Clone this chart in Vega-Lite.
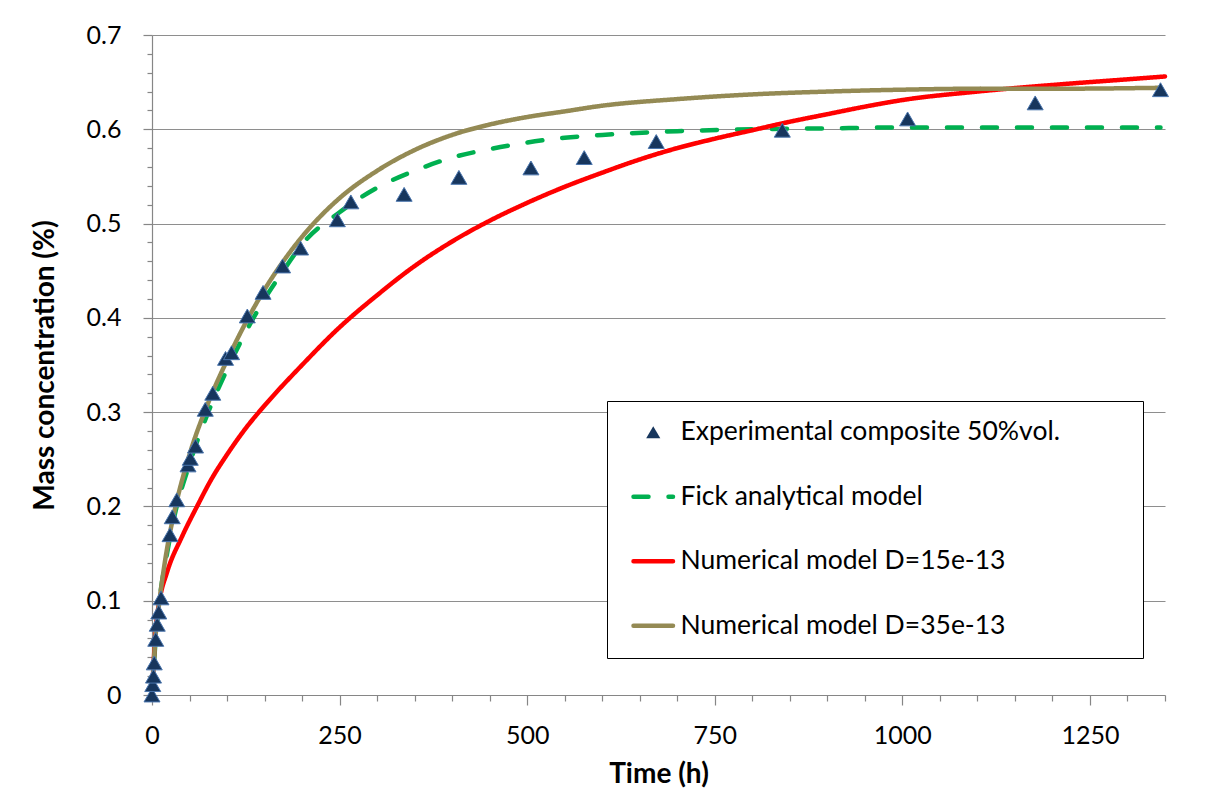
{
  "$schema": "https://vega.github.io/schema/vega-lite/v6.json",
  "width": 1013,
  "height": 660,
  "autosize": {"type": "none"},
  "padding": {"left": 152, "top": 35, "right": 47, "bottom": 97},
  "background": "white",
  "config": {"view": {"stroke": null}, "font": "Lato"},
  "datasets": {
    "exp": [
      {"series": "Experimental composite 50%vol.", "t": 0, "c": 0},
      {"series": "Experimental composite 50%vol.", "t": 1, "c": 0.011},
      {"series": "Experimental composite 50%vol.", "t": 2, "c": 0.02},
      {"series": "Experimental composite 50%vol.", "t": 3, "c": 0.034},
      {"series": "Experimental composite 50%vol.", "t": 5, "c": 0.059},
      {"series": "Experimental composite 50%vol.", "t": 7, "c": 0.075},
      {"series": "Experimental composite 50%vol.", "t": 9, "c": 0.088},
      {"series": "Experimental composite 50%vol.", "t": 12, "c": 0.103},
      {"series": "Experimental composite 50%vol.", "t": 24, "c": 0.17},
      {"series": "Experimental composite 50%vol.", "t": 27, "c": 0.189},
      {"series": "Experimental composite 50%vol.", "t": 33, "c": 0.207},
      {"series": "Experimental composite 50%vol.", "t": 48, "c": 0.244},
      {"series": "Experimental composite 50%vol.", "t": 51, "c": 0.251},
      {"series": "Experimental composite 50%vol.", "t": 58, "c": 0.264},
      {"series": "Experimental composite 50%vol.", "t": 71, "c": 0.303},
      {"series": "Experimental composite 50%vol.", "t": 81, "c": 0.32},
      {"series": "Experimental composite 50%vol.", "t": 98, "c": 0.357},
      {"series": "Experimental composite 50%vol.", "t": 106, "c": 0.363},
      {"series": "Experimental composite 50%vol.", "t": 127, "c": 0.402},
      {"series": "Experimental composite 50%vol.", "t": 148, "c": 0.427},
      {"series": "Experimental composite 50%vol.", "t": 174, "c": 0.455},
      {"series": "Experimental composite 50%vol.", "t": 198, "c": 0.474},
      {"series": "Experimental composite 50%vol.", "t": 247, "c": 0.504},
      {"series": "Experimental composite 50%vol.", "t": 265, "c": 0.523},
      {"series": "Experimental composite 50%vol.", "t": 336, "c": 0.531},
      {"series": "Experimental composite 50%vol.", "t": 409, "c": 0.549},
      {"series": "Experimental composite 50%vol.", "t": 505, "c": 0.559},
      {"series": "Experimental composite 50%vol.", "t": 576, "c": 0.57},
      {"series": "Experimental composite 50%vol.", "t": 672, "c": 0.587},
      {"series": "Experimental composite 50%vol.", "t": 840, "c": 0.599},
      {"series": "Experimental composite 50%vol.", "t": 1007, "c": 0.611},
      {"series": "Experimental composite 50%vol.", "t": 1177, "c": 0.628},
      {"series": "Experimental composite 50%vol.", "t": 1344, "c": 0.642}
    ],
    "curves": [
      {"series": "Fick analytical model", "t": 0, "c": 0},
      {"series": "Fick analytical model", "t": 5, "c": 0.06},
      {"series": "Fick analytical model", "t": 10, "c": 0.1},
      {"series": "Fick analytical model", "t": 20, "c": 0.15},
      {"series": "Fick analytical model", "t": 30, "c": 0.19},
      {"series": "Fick analytical model", "t": 50, "c": 0.245},
      {"series": "Fick analytical model", "t": 75, "c": 0.3},
      {"series": "Fick analytical model", "t": 100, "c": 0.345},
      {"series": "Fick analytical model", "t": 125, "c": 0.385},
      {"series": "Fick analytical model", "t": 150, "c": 0.42},
      {"series": "Fick analytical model", "t": 175, "c": 0.45},
      {"series": "Fick analytical model", "t": 200, "c": 0.478},
      {"series": "Fick analytical model", "t": 250, "c": 0.512},
      {"series": "Fick analytical model", "t": 300, "c": 0.538},
      {"series": "Fick analytical model", "t": 350, "c": 0.556},
      {"series": "Fick analytical model", "t": 400, "c": 0.57},
      {"series": "Fick analytical model", "t": 450, "c": 0.579},
      {"series": "Fick analytical model", "t": 500, "c": 0.586},
      {"series": "Fick analytical model", "t": 550, "c": 0.591},
      {"series": "Fick analytical model", "t": 600, "c": 0.594},
      {"series": "Fick analytical model", "t": 700, "c": 0.598},
      {"series": "Fick analytical model", "t": 800, "c": 0.6},
      {"series": "Fick analytical model", "t": 900, "c": 0.601},
      {"series": "Fick analytical model", "t": 1000, "c": 0.602},
      {"series": "Fick analytical model", "t": 1100, "c": 0.602},
      {"series": "Fick analytical model", "t": 1200, "c": 0.602},
      {"series": "Fick analytical model", "t": 1344, "c": 0.602},
      {"series": "Numerical model D=15e-13", "t": 0, "c": 0},
      {"series": "Numerical model D=15e-13", "t": 5, "c": 0.07},
      {"series": "Numerical model D=15e-13", "t": 10, "c": 0.1},
      {"series": "Numerical model D=15e-13", "t": 20, "c": 0.13},
      {"series": "Numerical model D=15e-13", "t": 40, "c": 0.168},
      {"series": "Numerical model D=15e-13", "t": 60, "c": 0.2},
      {"series": "Numerical model D=15e-13", "t": 80, "c": 0.23},
      {"series": "Numerical model D=15e-13", "t": 100, "c": 0.255},
      {"series": "Numerical model D=15e-13", "t": 125, "c": 0.283},
      {"series": "Numerical model D=15e-13", "t": 150, "c": 0.307},
      {"series": "Numerical model D=15e-13", "t": 200, "c": 0.35},
      {"series": "Numerical model D=15e-13", "t": 250, "c": 0.39},
      {"series": "Numerical model D=15e-13", "t": 300, "c": 0.424},
      {"series": "Numerical model D=15e-13", "t": 350, "c": 0.455},
      {"series": "Numerical model D=15e-13", "t": 400, "c": 0.481},
      {"series": "Numerical model D=15e-13", "t": 450, "c": 0.503},
      {"series": "Numerical model D=15e-13", "t": 500, "c": 0.522},
      {"series": "Numerical model D=15e-13", "t": 550, "c": 0.539},
      {"series": "Numerical model D=15e-13", "t": 600, "c": 0.554},
      {"series": "Numerical model D=15e-13", "t": 650, "c": 0.568},
      {"series": "Numerical model D=15e-13", "t": 700, "c": 0.58},
      {"series": "Numerical model D=15e-13", "t": 750, "c": 0.59},
      {"series": "Numerical model D=15e-13", "t": 800, "c": 0.599},
      {"series": "Numerical model D=15e-13", "t": 850, "c": 0.608},
      {"series": "Numerical model D=15e-13", "t": 900, "c": 0.616},
      {"series": "Numerical model D=15e-13", "t": 950, "c": 0.624},
      {"series": "Numerical model D=15e-13", "t": 1000, "c": 0.631},
      {"series": "Numerical model D=15e-13", "t": 1100, "c": 0.64},
      {"series": "Numerical model D=15e-13", "t": 1200, "c": 0.647},
      {"series": "Numerical model D=15e-13", "t": 1300, "c": 0.653},
      {"series": "Numerical model D=15e-13", "t": 1350, "c": 0.656},
      {"series": "Numerical model D=35e-13", "t": 0, "c": 0},
      {"series": "Numerical model D=35e-13", "t": 5, "c": 0.065},
      {"series": "Numerical model D=35e-13", "t": 10, "c": 0.1},
      {"series": "Numerical model D=35e-13", "t": 20, "c": 0.155},
      {"series": "Numerical model D=35e-13", "t": 30, "c": 0.195},
      {"series": "Numerical model D=35e-13", "t": 50, "c": 0.255},
      {"series": "Numerical model D=35e-13", "t": 75, "c": 0.31},
      {"series": "Numerical model D=35e-13", "t": 100, "c": 0.355},
      {"series": "Numerical model D=35e-13", "t": 125, "c": 0.395},
      {"series": "Numerical model D=35e-13", "t": 150, "c": 0.43},
      {"series": "Numerical model D=35e-13", "t": 175, "c": 0.46},
      {"series": "Numerical model D=35e-13", "t": 200, "c": 0.486},
      {"series": "Numerical model D=35e-13", "t": 250, "c": 0.527},
      {"series": "Numerical model D=35e-13", "t": 300, "c": 0.556},
      {"series": "Numerical model D=35e-13", "t": 350, "c": 0.578},
      {"series": "Numerical model D=35e-13", "t": 400, "c": 0.594},
      {"series": "Numerical model D=35e-13", "t": 450, "c": 0.605},
      {"series": "Numerical model D=35e-13", "t": 500, "c": 0.613},
      {"series": "Numerical model D=35e-13", "t": 550, "c": 0.619},
      {"series": "Numerical model D=35e-13", "t": 600, "c": 0.625},
      {"series": "Numerical model D=35e-13", "t": 700, "c": 0.632},
      {"series": "Numerical model D=35e-13", "t": 800, "c": 0.637},
      {"series": "Numerical model D=35e-13", "t": 900, "c": 0.64},
      {"series": "Numerical model D=35e-13", "t": 1000, "c": 0.642},
      {"series": "Numerical model D=35e-13", "t": 1100, "c": 0.643},
      {"series": "Numerical model D=35e-13", "t": 1200, "c": 0.643},
      {"series": "Numerical model D=35e-13", "t": 1344, "c": 0.644}
    ]
  },
  "encoding": {
    "x": {
      "field": "t", "type": "quantitative",
      "scale": {"domain": [0, 1350], "nice": false, "zero": true},
      "axis": {
        "title": "Time (h)",
        "values": [0,50,100,150,200,250,300,350,400,450,500,550,600,650,700,750,800,850,900,950,1000,1050,1100,1150,1200,1250,1300,1350],
        "labelExpr": "datum.value % 250 === 0 ? '' + datum.value : ''",
        "labelFont": "Lato", "labelFontSize": 25, "labelColor": "#000",
        "labelPadding": 18, "labelFlush": false, "labelOverlap": false,
        "titleFont": "Lato", "titleFontSize": 28, "titleFontWeight": "bold", "titleColor": "#000",
        "titlePadding": 12,
        "domainColor": "#868686", "domainWidth": 1.2,
        "tickColor": "#868686", "tickWidth": 1.2,
        "tickSize": {"condition": {"test": "datum.value % 250 === 0", "value": 10}, "value": 6},
        "grid": false
      }
    },
    "y": {
      "field": "c", "type": "quantitative",
      "scale": {"domain": [0, 0.7], "nice": false},
      "axis": {
        "title": "Mass concentration (%)",
        "values": [0,0.02,0.04,0.06,0.08,0.1,0.12,0.14,0.16,0.18,0.2,0.22,0.24,0.26,0.28,0.3,0.32,0.34,0.36,0.38,0.4,0.42,0.44,0.46,0.48,0.5,0.52,0.54,0.56,0.58,0.6,0.62,0.64,0.66,0.68,0.7],
        "labelExpr": "round(datum.value * 100) % 10 === 0 ? '' + round(datum.value * 10) / 10 : ''",
        "labelFont": "Lato", "labelFontSize": 25, "labelColor": "#000",
        "labelPadding": 22, "labelOverlap": false, "labelFlush": false,
        "titleFont": "Lato", "titleFontSize": 28, "titleFontWeight": "bold", "titleColor": "#000",
        "titlePadding": 27,
        "domainColor": "#868686", "domainWidth": 1.2,
        "tickColor": "#868686", "tickWidth": 1.2,
        "tickSize": {"condition": {"test": "round(datum.value * 100) % 10 === 0", "value": 9}, "value": 5},
        "grid": true, "gridColor": "#8e8e8e", "gridWidth": 1.2,
        "gridOpacity": {"condition": {"test": "round(datum.value * 100) % 10 === 0 && datum.value > 0", "value": 1}, "value": 0}
      }
    }
  },
  "layer": [
    {
      "data": {"name": "curves"},
      "mark": {"type": "line", "strokeWidth": 4.5, "interpolate": "monotone", "strokeCap": "round"},
      "encoding": {
        "color": {
          "field": "series", "type": "nominal",
          "scale": {
            "domain": ["Experimental composite 50%vol.", "Fick analytical model", "Numerical model D=15e-13", "Numerical model D=35e-13"],
            "range": ["#17365d", "#00b050", "#ff0000", "#948a54"]
          },
          "legend": {
            "orient": "none", "legendX": 455, "legendY": 366,
            "title": null,
            "strokeColor": "#000", "fillColor": "white", "padding": 18,
            "labelFont": "Lato", "labelFontSize": 26.5, "labelColor": "#000", "labelLimit": 800,
            "labelOffset": 14, "symbolSize": 1560, "rowPadding": 37.5, "symbolOffset": 15,
            "encode": {
              "symbols": {
                "update": {
                  "shape": {"signal": "datum.value === 'Experimental composite 50%vol.' ? 'triangle-up' : datum.value === 'Numerical model D=15e-13' ? 'M-1,0H1M23.4,0' : 'stroke'"},
                  "size": {"signal": "datum.value === 'Experimental composite 50%vol.' ? 200 : 1560"},
                  "fill": {"signal": "datum.value === 'Experimental composite 50%vol.' ? '#17365d' : 'transparent'"},
                  "stroke": {"signal": "datum.value === 'Fick analytical model' ? '#00b050' : datum.value === 'Numerical model D=15e-13' ? '#ff0000' : datum.value === 'Numerical model D=35e-13' ? '#948a54' : '#17365d'"},
                  "strokeWidth": {"signal": "datum.value === 'Experimental composite 50%vol.' ? 0 : 4.5"},
                  "strokeDash": {"signal": "datum.value === 'Fick analytical model' ? [15, 20] : [1, 0]"},
                  "strokeCap": {"value": "round"},
                  "opacity": {"value": 1}
                }
              }
            }
          }
        },
        "strokeDash": {
          "field": "series", "type": "nominal",
          "scale": {
            "domain": ["Experimental composite 50%vol.", "Fick analytical model", "Numerical model D=15e-13", "Numerical model D=35e-13"],
            "range": [[1, 0], [15, 20], [1, 0], [1, 0]]
          },
          "legend": null
        }
      }
    },
    {
      "data": {"name": "exp"},
      "mark": {"type": "point", "shape": "triangle-up", "filled": true, "size": 256, "stroke": "#4a75ad", "strokeWidth": 1, "opacity": 1},
      "encoding": {
        "color": {"field": "series", "type": "nominal"}
      }
    }
  ]
}
